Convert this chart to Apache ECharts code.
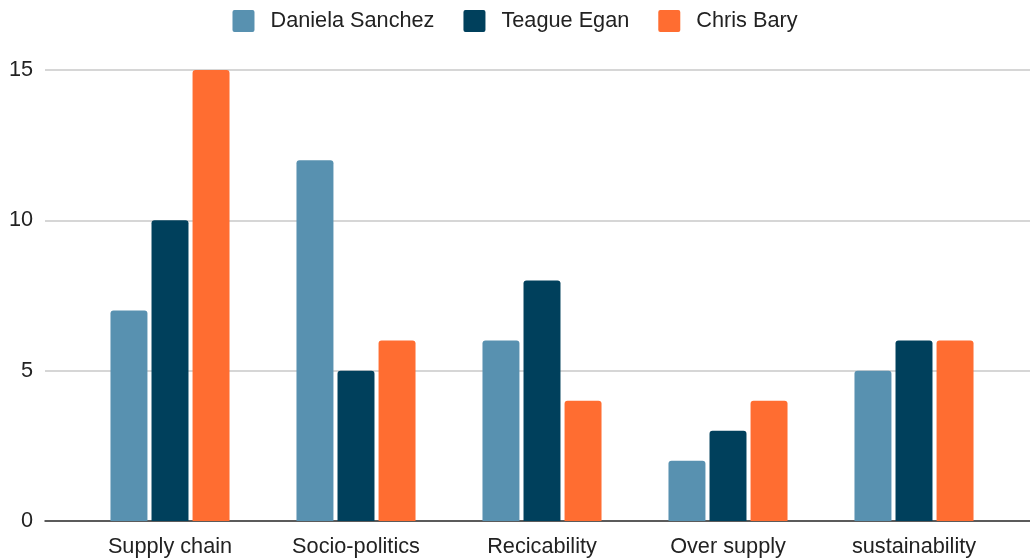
<!DOCTYPE html>
<html><head><meta charset="utf-8">
<script src="https://cdn.jsdelivr.net/npm/echarts@6/dist/echarts.min.js"></script>
<style>html,body{margin:0;padding:0;background:#fff}#c{width:1030px;height:559px}</style>
</head><body><div id="c"></div>
<script>
const categories = ['Supply chain', 'Socio-politics', 'Recicability', 'Over supply', 'sustainability'];
const danielaSanchez = [7, 12, 6, 2, 5];
const teagueEgan = [10, 5, 8, 3, 6];
const chrisBary = [15, 6, 4, 4, 6];
const yTicks = [0, 5, 10, 15];

const font = "'Liberation Sans', Arial, sans-serif";
const chart = echarts.init(document.getElementById('c'));
const mk = (name, data, color) => ({
  name, type: 'bar', data, xAxisIndex: 1, yAxisIndex: 1,
  barGap: '11%', barCategoryGap: '36%',
  itemStyle: { color, borderRadius: [3, 3, 0, 0] }
});
chart.setOption({
  animation: false,
  textStyle: { fontFamily: font },
  legend: {
    top: 5, left: 'center', itemWidth: 22, itemHeight: 22, itemGap: 29,
    icon: 'path://M2,0H20A2,2,0,0,1,22,2V20A2,2,0,0,1,20,22H2A2,2,0,0,1,0,20V2A2,2,0,0,1,2,0Z',
    textStyle: { fontSize: 21.7, color: '#222', fontFamily: font, padding: [0, 0, 0, 11] }
  },
  grid: [
    { left: 45, right: 0, top: 70, bottom: 38 },
    { left: 77, right: 23, top: 70, bottom: 38 }
  ],
  xAxis: [
    { type: 'category', gridIndex: 0, data: [''], axisLine: { lineStyle: { color: '#333', width: 1.5 } },
      axisTick: { show: false }, axisLabel: { show: false } },
    { type: 'category', gridIndex: 1, data: categories, axisLine: { show: false }, axisTick: { show: false },
      axisLabel: { fontSize: 21.7, color: '#222', margin: 15, fontFamily: font } }
  ],
  yAxis: [
    { type: 'value', gridIndex: 0, min: yTicks[0], max: yTicks[yTicks.length - 1], interval: 5,
      axisLabel: { fontSize: 21.7, color: '#222', margin: 12, fontFamily: font },
      splitLine: { lineStyle: { color: '#c8c8c8', width: 1.5 } }, axisLine: { show: false }, axisTick: { show: false } },
    { type: 'value', gridIndex: 1, min: yTicks[0], max: yTicks[yTicks.length - 1], interval: 5, show: false, splitLine: { show: false } }
  ],
  series: [
    mk('Daniela Sanchez', danielaSanchez, '#5891b0'),
    mk('Teague Egan', teagueEgan, '#00405c'),
    mk('Chris Bary', chrisBary, '#ff6d31')
  ]
});
</script></body></html>
